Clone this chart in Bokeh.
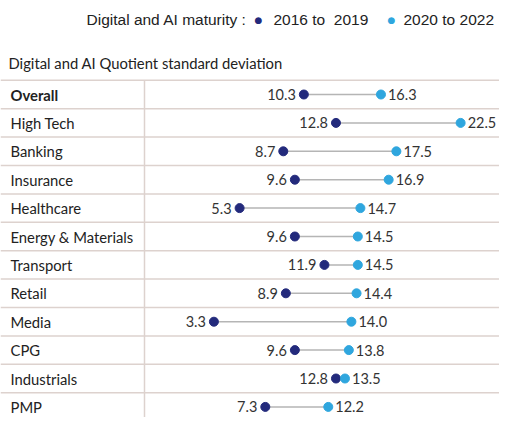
from bokeh.plotting import figure
from bokeh.models import ColumnDataSource, Range1d, Label, Span
from bokeh.core.properties import value
from bokeh.embed import file_html
from bokeh.resources import INLINE

categories = ["Overall", "High Tech", "Banking", "Insurance", "Healthcare",
              "Energy & Materials", "Transport", "Retail", "Media", "CPG",
              "Industrials", "PMP"]
period_2016_2019 = [10.3, 12.8, 8.7, 9.6, 5.3, 9.6, 11.9, 8.9, 3.3, 9.6, 12.8, 7.3]
period_2020_2022 = [16.3, 22.5, 17.5, 16.9, 14.7, 14.5, 14.5, 14.4, 14.0, 13.8, 13.5, 12.2]

DARK = "#232a7c"
LIGHT = "#2fa6de"
FONT = "Lato"

rows = list(range(len(categories)))
src = ColumnDataSource(dict(
    cat=categories, y=rows, a=period_2016_2019, b=period_2020_2022,
    a_lab=[f"{v:.1f}" for v in period_2016_2019],
    b_lab=[f"{v:.1f}" for v in period_2020_2022],
    lx=[-12.529] * len(rows),
    style=["bold"] + ["normal"] * (len(rows) - 1),
))

p = figure(width=499, height=417, output_backend="svg", toolbar_location=None,
           x_range=Range1d(-13.307, 25.525), y_range=Range1d(11.373, -3.31),
           min_border=0, outline_line_color=None)
p.axis.visible = False
p.grid.visible = False

# separators
for i in range(-1, len(rows) - 1):
    p.add_layout(Span(location=i + 0.5, dimension="width",
                      line_color="#ddd2ce", line_width=1.5))
p.segment(x0=-2.101, y0=-0.5, x1=-2.101, y1=11.373, line_color="#ddd2ce", line_width=1.5)

# dumbbells
p.segment(x0="a", y0="y", x1="b", y1="y", source=src, line_color="#b5b5b5", line_width=1.5)
p.scatter(x="a", y="y", source=src, size=9, fill_color=DARK, line_color=DARK)
p.scatter(x="b", y="y", source=src, size=9, fill_color=LIGHT, line_color=LIGHT)

p.text(x="a", y="y", text="a_lab", source=src, x_offset=-8, text_align="right",
       text_baseline="middle", text_font=value(FONT), text_font_size="14.5px",
       text_color="#333333")
p.text(x="b", y="y", text="b_lab", source=src, x_offset=7, text_align="left",
       text_baseline="middle", text_font=value(FONT), text_font_size="14.5px",
       text_color="#333333")

# category labels
p.text(x="lx", y="y", text="cat", source=src, text_align="left",
       text_baseline="middle", text_font=value(FONT), text_font_size="14.8px",
       text_font_style="style", text_color="#222222")

# subtitle
p.add_layout(Label(x=8, y=355, x_units="screen", y_units="screen",
                   text="Digital and AI Quotient standard deviation",
                   text_font=FONT, text_font_size="14.8px", text_color="#222222",
                   text_baseline="middle"))

# legend
leg_y = 398
p.add_layout(Label(x=86, y=leg_y, x_units="screen", y_units="screen",
                   text="Digital and AI maturity :", text_font="Liberation Sans",
                   text_font_size="15.5px", text_color="#222222", text_baseline="middle"))
p.add_layout(Label(x=254, y=leg_y, x_units="screen", y_units="screen",
                   text="●", text_font="DejaVu Sans", text_font_size="9px",
                   text_color=DARK, text_baseline="middle"))
p.add_layout(Label(x=273, y=leg_y, x_units="screen", y_units="screen",
                   text="2016 to\u00a0\u00a02019", text_font="Liberation Sans",
                   text_font_size="15.5px", text_color="#222222", text_baseline="middle"))
p.add_layout(Label(x=387, y=leg_y, x_units="screen", y_units="screen",
                   text="●", text_font="DejaVu Sans", text_font_size="9px",
                   text_color=LIGHT, text_baseline="middle"))
p.add_layout(Label(x=403, y=leg_y, x_units="screen", y_units="screen",
                   text="2020 to 2022", text_font="Liberation Sans",
                   text_font_size="15.5px", text_color="#222222", text_baseline="middle"))

open("out.html", "w").write(file_html(p, INLINE))
